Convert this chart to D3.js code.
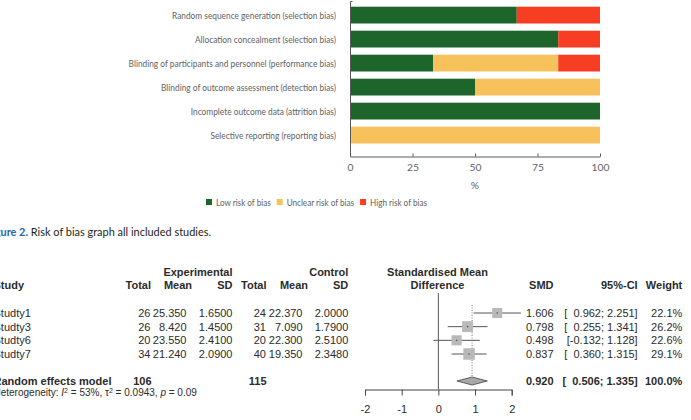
<!DOCTYPE html>
<html>
<head>
<meta charset="utf-8">
<script src="https://cdn.jsdelivr.net/npm/d3@7"></script>
<style>
  body { margin: 0; background: #fff; }
  svg { display: block; }
</style>
</head>
<body>
<svg id="chart" width="691" height="420"></svg>
<script>
// Risk of bias graph: share of studies (%) per judgement for each domain.
const domains = [
  'Random sequence generation (selection bias)',
  'Allocation concealment (selection bias)',
  'Blinding of participants and personnel (performance bias)',
  'Blinding of outcome assessment (detection bias)',
  'Incomplete outcome data (attrition bias)',
  'Selective reporting (reporting bias)'
];
const lowRisk     = [66.7, 83.3, 33.3, 50, 100, 0];
const unclearRisk = [0, 0, 50, 50, 0, 100];
const highRisk    = [33.3, 16.7, 16.7, 0, 0, 0];
const riskLabels  = ['Low risk of bias', 'Unclear risk of bias', 'High risk of bias'];
const riskColors  = ['#1e652b', '#f7c25c', '#f73d22'];
const pctTicks    = [0, 25, 50, 75, 100];

// Forest plot: standardised mean difference per study.
const studies   = ['Studty1', 'Studty3', 'Studty6', 'Studty7'];
const expTotal  = [26, 26, 20, 34];
const expMean   = [25.35, 8.42, 23.55, 21.24];
const expSD     = [1.65, 1.45, 2.41, 2.09];
const ctrlTotal = [24, 31, 20, 40];
const ctrlMean  = [22.37, 7.09, 22.3, 19.35];
const ctrlSD    = [2.0, 1.79, 2.51, 2.348];
const smd       = [1.606, 0.798, 0.498, 0.837];
const ciLow     = [0.962, 0.255, -0.132, 0.360];
const ciHigh    = [2.251, 1.341, 1.128, 1.315];
const weights   = [22.1, 26.2, 22.6, 29.1];
const pooled    = [0.920, 0.506, 1.335];   // estimate, lower, upper
const pooledN   = [106, 115];
const hetStats  = [53, 0.0943, 0.09];      // I2 %, tau2, p
const smdTicks  = [-2, -1, 0, 1, 2];

const svg = d3.select('#chart');
svg.append('rect').attr('width', 691).attr('height', 420).attr('fill', '#fff');

// The original figure uses a narrow humanist face; squeeze text horizontally
// by a common factor so the widths line up with the printed figure.
function squeeze(sel, k) {
  sel.each(function () {
    const w = this.getComputedTextLength();
    d3.select(this).attr('textLength', w * k).attr('lengthAdjust', 'spacingAndGlyphs');
  });
}

// ---------- risk of bias bars ----------
const topFont = 'Lato, "Open Sans", sans-serif';
const grey = '#616264';
const x = d3.scaleLinear().domain([0, 100]).range([350, 600]);
const y = d3.scaleBand().domain(domains).range([3.1, 147.1]).paddingInner(0.3).paddingOuter(0.15);

const rows = domains.map((d, i) => ({ domain: d, 0: lowRisk[i], 1: unclearRisk[i], 2: highRisk[i] }));
const layers = d3.stack().keys([0, 1, 2])(rows);

svg.append('g').selectAll('g').data(layers).join('g')
  .attr('fill', (d, i) => riskColors[i])
  .selectAll('rect').data(d => d.filter(s => s[1] > s[0])).join('rect')
  .attr('x', s => x(s[0]))
  .attr('y', s => y(s.data.domain))
  .attr('width', s => x(s[1]) - x(s[0]))
  .attr('height', y.bandwidth());

const labels = svg.append('g').selectAll('text').data(domains).join('text')
  .attr('x', 336).attr('y', d => y(d) + y.bandwidth() / 2).attr('dy', '.35em')
  .attr('text-anchor', 'end').attr('font-family', topFont).attr('font-size', 10.2)
  .attr('fill', grey).text(d => d);
squeeze(labels, 164 / labels.node().getComputedTextLength());

// axis frame: vertical line with small top tick, then the % axis
svg.append('path').attr('d', 'M352.5,1.5H350.5V156.5')
  .attr('fill', 'none').attr('stroke', '#58595b').attr('stroke-width', 1);
svg.append('g').attr('transform', 'translate(0,156.5)')
  .call(d3.axisBottom(x).tickValues(pctTicks).tickSizeInner(-3).tickSizeOuter(0).tickPadding(7.5))
  .call(g => g.select('.domain').attr('stroke', '#58595b'))
  .call(g => g.selectAll('.tick line').attr('stroke', '#58595b'))
  .call(g => g.selectAll('.tick text').attr('font-family', topFont).attr('font-size', 10.3).attr('fill', grey));
svg.append('text').attr('x', x(50)).attr('y', 188.5).attr('text-anchor', 'middle')
  .attr('font-family', topFont).attr('font-size', 10.3).attr('fill', grey).text('%');

// legend, laid out left to right from measured text widths
let lx = 206;
let legK = null;
riskLabels.forEach((lab, i) => {
  svg.append('rect').attr('x', lx).attr('y', 199).attr('width', 6).attr('height', 6).attr('fill', riskColors[i]);
  const t = svg.append('text').attr('x', lx + 10).attr('y', 205.5)
    .attr('font-family', topFont).attr('font-size', 9.6).attr('fill', grey).text(lab);
  if (legK === null) legK = 54.7 / t.node().getComputedTextLength();
  const w = t.node().getComputedTextLength() * legK;
  squeeze(t, legK);
  lx += 10 + w + 6;
});

// caption (left part of "Figure" is cut by the page edge); narrowed with a
// horizontal scale so both coloured parts shrink together
const cap = svg.append('text').attr('y', 236.5).attr('font-family', topFont).attr('font-size', 12.2);
cap.append('tspan').attr('fill', '#2766b0').attr('font-weight', 700).text('Figure 2.');
cap.append('tspan').attr('fill', '#231f20').text(' Risk of bias graph all included studies.');
const capCut = cap.node().getSubStringLength(0, 3);
const capW = cap.node().getComputedTextLength();
const capK = 210.5 / (capW - capCut);
cap.attr('transform', `translate(${-capCut * capK + 0.5},0) scale(${capK},1)`);

// ---------- forest plot ----------
const fFont = '"Liberation Sans", Arial, sans-serif';
const ink = '#2b2b2b';
const fx = d3.scaleLinear().domain([-2, 2]).range([365, 511.7]);
const ry = d3.scalePoint().domain(studies).range([313, 354]);
const sumY = 381;
const box = d3.scaleSqrt().domain([0, d3.max(weights)]).range([0, 11.5]);
const f3 = v => v.toFixed(3);
const pad = '\u2007';   // figure space keeps the CI brackets aligned

// right edges of the text columns
const col = { expN: 150.5, expM: 186.5, expSD: 232.5, ctlN: 266, ctlM: 302.5, ctlSD: 348.3, smd: 553.5, ci: 637.7, w: 682.3 };

function put(tx, ty, s, anchor = 'end', bold = false, size = 11) {
  return svg.append('text').attr('x', tx).attr('y', ty).attr('dy', '.35em')
    .attr('text-anchor', anchor).attr('font-family', fFont).attr('font-size', size)
    .attr('font-weight', bold ? 700 : 400).attr('fill', ink).text(s);
}

// headers
put(col.expSD, 271.7, 'Experimental', 'end', true);
put(col.ctlSD, 271.7, 'Control', 'end', true);
put(437.5, 271.7, 'Standardised Mean', 'middle', true);
put(-6.5, 285, 'Study', 'start', true);
put(col.expN + 0.5, 285, 'Total', 'end', true);
put(192, 285, 'Mean', 'end', true);
put(col.expSD, 285, 'SD', 'end', true);
put(col.ctlN + 0.5, 285, 'Total', 'end', true);
put(308, 285, 'Mean', 'end', true);
put(col.ctlSD, 285, 'SD', 'end', true);
put(437.5, 285, 'Difference', 'middle', true);
put(col.smd, 285, 'SMD', 'end', true);
put(col.ci, 285, '95%-CI', 'end', true);
put(col.w, 285, 'Weight', 'end', true);

// study rows
studies.forEach((s, i) => {
  const yy = ry(s);
  put(-6.5, yy, s, 'start');
  put(col.expN, yy, expTotal[i]);
  put(col.expM, yy, f3(expMean[i]));
  put(col.expSD, yy, expSD[i].toFixed(4));
  put(col.ctlN, yy, ctrlTotal[i]);
  put(col.ctlM, yy, f3(ctrlMean[i]));
  put(col.ctlSD, yy, ctrlSD[i].toFixed(4));
  put(col.smd, yy, f3(smd[i]));
  put(col.ci, yy, '[' + (ciLow[i] < 0 ? '' : pad) + f3(ciLow[i]) + '; ' + f3(ciHigh[i]) + ']');
  put(col.w, yy, weights[i].toFixed(1) + '%');
});

// summary row
put(-6.5, sumY, 'Random effects model', 'start', true);
put(col.expN + 1, sumY, pooledN[0], 'end', true);
put(col.ctlN + 0.5, sumY, pooledN[1], 'end', true);
put(col.smd, sumY, f3(pooled[0]), 'end', true);
put(col.ci, sumY, '[' + pad + f3(pooled[1]) + '; ' + f3(pooled[2]) + ']', 'end', true);
put(col.w, sumY, '100.0%', 'end', true);

// heterogeneity line
const het = put(-6.5, 392.5, '', 'start', false, 10);
het.append('tspan').text('Heterogeneity: ');
het.append('tspan').attr('font-style', 'italic').text('I');
het.append('tspan').attr('font-size', 7).attr('dy', '-0.45em').text('2');
het.append('tspan').attr('dy', '0.32em').text(' = ' + hetStats[0] + '%, τ');
het.append('tspan').attr('font-size', 7).attr('dy', '-0.45em').text('2');
het.append('tspan').attr('dy', '0.32em').text(' = ' + hetStats[1] + ', ');
het.append('tspan').attr('font-style', 'italic').text('p');
het.append('tspan').text(' = ' + hetStats[2]);

// reference lines
svg.append('line').attr('x1', fx(0)).attr('x2', fx(0)).attr('y1', 293).attr('y2', 389)
  .attr('stroke', '#555').attr('stroke-width', 1);
svg.append('line').attr('x1', fx(pooled[0])).attr('x2', fx(pooled[0])).attr('y1', 305).attr('y2', sumY - 4)
  .attr('stroke', '#555').attr('stroke-width', 0.8).attr('stroke-dasharray', '1 1.5');

// confidence intervals, weight boxes and centre points
const fg = svg.append('g');
fg.selectAll('line.ci').data(studies).join('line').attr('class', 'ci')
  .attr('x1', (s, i) => fx(ciLow[i])).attr('x2', (s, i) => fx(ciHigh[i]))
  .attr('y1', s => ry(s)).attr('y2', s => ry(s)).attr('stroke', '#555').attr('stroke-width', 1);
fg.selectAll('rect').data(studies).join('rect')
  .attr('x', (s, i) => fx(smd[i]) - box(weights[i]) / 2)
  .attr('y', (s, i) => ry(s) - box(weights[i]) / 2)
  .attr('width', (s, i) => box(weights[i])).attr('height', (s, i) => box(weights[i]))
  .attr('fill', '#b9b9b9');
fg.selectAll('circle').data(studies).join('circle')
  .attr('cx', (s, i) => fx(smd[i])).attr('cy', s => ry(s)).attr('r', 0.8).attr('fill', '#555');

// pooled diamond
svg.append('path')
  .attr('d', `M${fx(pooled[1])},${sumY}L${fx(pooled[0])},${sumY - 4}L${fx(pooled[2])},${sumY}L${fx(pooled[0])},${sumY + 4}Z`)
  .attr('fill', '#a8a8a8').attr('stroke', '#444').attr('stroke-width', 0.8);

// SMD axis
svg.append('g').attr('transform', 'translate(0,389.5)')
  .call(d3.axisBottom(fx).tickValues(smdTicks).tickSize(6).tickPadding(10).tickFormat(d => String(d)))
  .call(g => g.selectAll('path, line').attr('stroke', '#444'))
  .call(g => g.selectAll('text').attr('font-family', fFont).attr('font-size', 11).attr('fill', ink));
</script>
</body>
</html>
